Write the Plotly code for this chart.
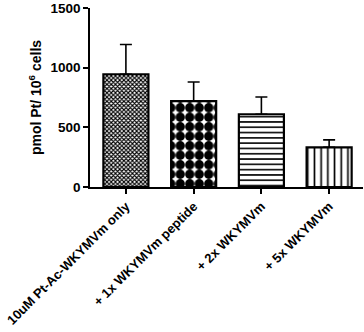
import plotly.graph_objects as go

categories = ["10uM Pt-Ac-WKYMVm only", "+ 1x WKYMVm peptide", "+ 2x WKYMVm", "+ 5x WKYMVm"]
values = [945, 720, 610, 333]
errors = [250, 160, 145, 62]
y_ticks = [0, 500, 1000, 1500]

patterns = ["x", ".", "-", "|"]
pat_sizes = [3, 9.5, 5.3, 6.7]
pat_solid = [0.6, 0.75, 0.3, 0.25]

fig = go.Figure()
fig.add_trace(go.Bar(
    x=categories, y=values, width=0.665,
    marker=dict(color="white", line=dict(color="black", width=2.2),
                pattern=dict(shape=patterns, size=pat_sizes, solidity=pat_solid,
                             fgcolor="black", bgcolor="white", fgopacity=1, fillmode="overlay")),
    error_y=dict(type="data", array=errors, arrayminus=[0]*4, symmetric=False,
                 color="black", thickness=1.6, width=6),
))

fig.update_layout(
    width=364, height=332,
    margin=dict(l=90, r=1, t=8, b=145),
    paper_bgcolor="white", plot_bgcolor="white",
    showlegend=False,
    font=dict(family="Arial, Liberation Sans, sans-serif", color="black"),
)
fig.update_xaxes(
    range=[-0.53, 3.5], showline=True, linecolor="black", linewidth=1.5,
    ticks="outside", ticklen=5, tickwidth=1.5, tickcolor="black",
    tickangle=-45, tickfont=dict(size=13, weight="bold"), showgrid=False,
    automargin=False, ticklabeloverflow="allow",
)
fig.update_yaxes(
    range=[0, 1500.5], tickvals=y_ticks, showline=True, linecolor="black", linewidth=1.5,
    ticks="outside", ticklen=5, tickwidth=1.5, tickcolor="black",
    tickfont=dict(size=13.5, weight="bold"), showgrid=False, zeroline=False,
    automargin=False, ticklabeloverflow="allow",
    title=dict(text="pmol Pt/ 10<sup>6</sup> cells", font=dict(size=14, weight="bold"), standoff=6),
)

fig.write_html("out.html", config={"displayModeBar": False},
               post_script="document.body.style.margin='0';document.body.style.padding='0';")
